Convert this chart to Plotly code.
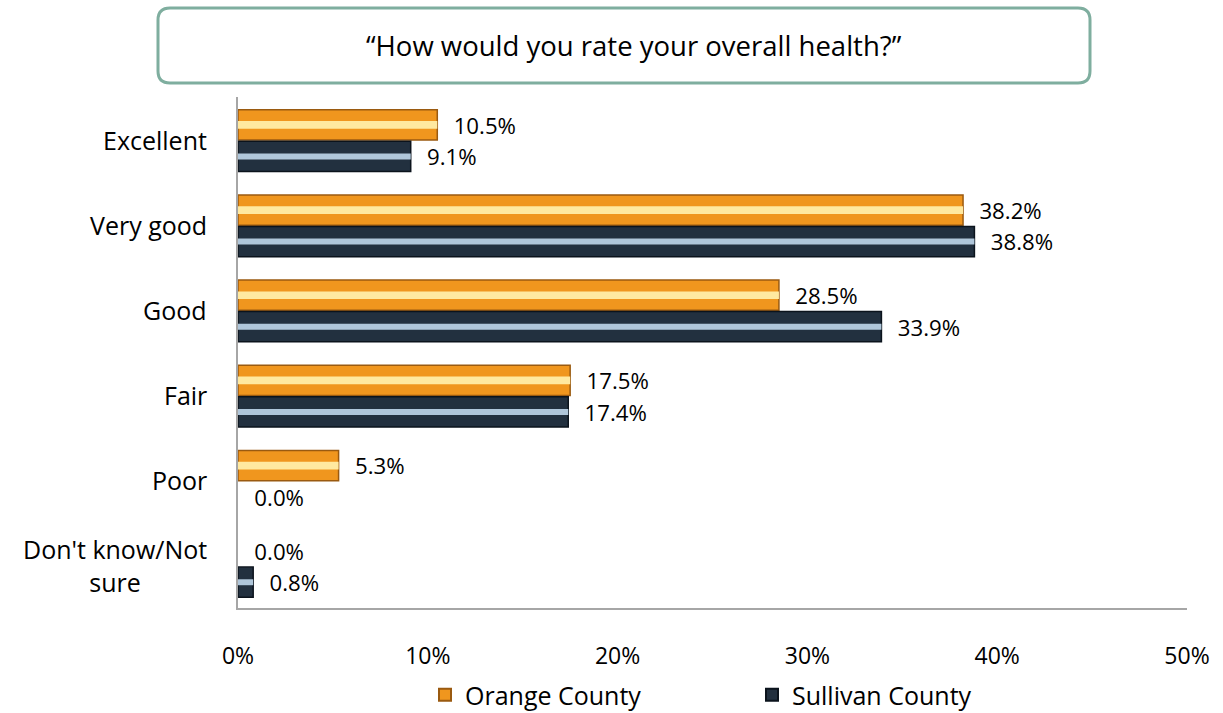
import plotly.graph_objects as go

categories = ["Excellent", "Very good", "Good", "Fair", "Poor", "Don't know/Not<br>sure"]
orange_county = [10.5, 38.2, 28.5, 17.5, 5.3, 0.0]
sullivan_county = [9.1, 38.8, 33.9, 17.4, 0.0, 0.8]
x_ticks = [0, 10, 20, 30, 40, 50]
x_tick_labels = ["0%", "10%", "20%", "30%", "40%", "50%"]
title_text = "\u201cHow would you rate your overall health?\u201d"

FONT = "Open Sans"
W, H = 1223, 713
ml, mr, mt, mb = 238, 36, 97, 105
pw, ph = W - ml - mr, H - mt - mb

fig = go.Figure()

bw = 0.355
o_off, s_off = -0.35, 0.02
PAD = "\u2002\u200a"


def edge_widths(vals):
    return [1.5 if v > 0 else 0 for v in vals]


fig.add_trace(go.Bar(
    y=categories, x=orange_county, orientation="h", name="Orange County",
    width=bw, offset=o_off,
    marker=dict(color="#F0961E", line=dict(color="#9A5A10", width=edge_widths(orange_county))),
    text=[f"{PAD}{v:.1f}%" for v in orange_county], textposition="outside",
    textfont=dict(size=25, color="#000000", family=FONT), cliponaxis=False,
))
fig.add_trace(go.Bar(
    y=categories, x=sullivan_county, orientation="h", name="Sullivan County",
    width=bw, offset=s_off,
    marker=dict(color="#22303F", line=dict(color="#0B131C", width=edge_widths(sullivan_county))),
    text=[f"{PAD}{v:.1f}%" for v in sullivan_county], textposition="outside",
    textfont=dict(size=25, color="#000000", family=FONT), cliponaxis=False,
))
fig.add_trace(go.Bar(
    y=categories, x=orange_county, orientation="h", showlegend=False, hoverinfo="skip",
    width=0.09, offset=o_off + bw / 2 - 0.045,
    marker=dict(color="#FFE9A0", line=dict(width=0)),
))
fig.add_trace(go.Bar(
    y=categories, x=sullivan_county, orientation="h", showlegend=False, hoverinfo="skip",
    width=0.07, offset=s_off + bw / 2 - 0.035,
    marker=dict(color="#AFC6DA", line=dict(width=0)),
))

annotations = []
for c in categories:
    annotations.append(dict(
        x=-0.031, xref="paper", y=c, yref="y", text=c, showarrow=False,
        xanchor="right", yanchor="middle", align="center",
        font=dict(size=25, color="#000000", family=FONT),
    ))
annotations.append(dict(
    x=(634 - ml) / pw, xref="paper", y=(H - mb - 45) / ph, yref="paper",
    text=title_text, showarrow=False, xanchor="center", yanchor="middle",
    font=dict(size=27.5, color="#000000", family=FONT),
))

x0, x1 = (158 - ml) / pw, (1090 - ml) / pw
y0, y1 = (H - mb - 83) / ph, (H - mb - 8) / ph
rx, ry = 12 / pw, 12 / ph
path = (f"M {x0+rx},{y1} L {x1-rx},{y1} Q {x1},{y1} {x1},{y1-ry} "
        f"L {x1},{y0+ry} Q {x1},{y0} {x1-rx},{y0} L {x0+rx},{y0} "
        f"Q {x0},{y0} {x0},{y0+ry} L {x0},{y1-ry} Q {x0},{y1} {x0+rx},{y1} Z")

fig.update_layout(
    width=W, height=H,
    margin=dict(l=ml, r=mr, t=mt, b=mb, autoexpand=False),
    paper_bgcolor="white", plot_bgcolor="white",
    barmode="overlay",
    font=dict(family=FONT, size=22, color="#000000"),
    xaxis=dict(range=[0, 50], tickvals=x_ticks, ticktext=x_tick_labels,
               showgrid=False, zeroline=False, showline=True, linecolor="#A6A6A6",
               linewidth=2, ticks="", tickfont=dict(size=23, family=FONT),
               ticklabelstandoff=26),
    yaxis=dict(autorange="reversed", showticklabels=False, showgrid=False,
               zeroline=False, showline=True, linecolor="#A6A6A6", linewidth=2,
               ticks=""),
    legend=dict(orientation="h", x=(425 - ml) / pw, xanchor="left",
                y=(H - mb - 695) / ph, yanchor="middle",
                font=dict(size=25, family=FONT), entrywidth=282,
                itemsizing="constant"),
    annotations=annotations,
    shapes=[dict(type="path", path=path, xref="paper", yref="paper",
                 line=dict(color="#7FAE9F", width=3), fillcolor="white", layer="below")],
    showlegend=True,
)

fig.write_html("out.html")
